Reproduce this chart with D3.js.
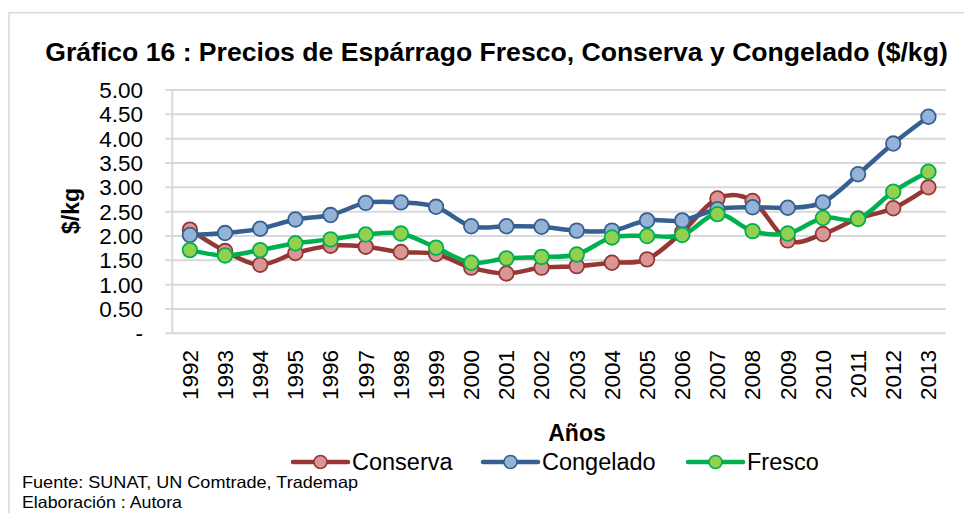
<!DOCTYPE html>
<html>
<head>
<meta charset="utf-8">
<script src="https://cdn.jsdelivr.net/npm/d3@7"></script>
<style>
  html, body { margin: 0; padding: 0; background: #fff; }
  svg { display: block; font-family: "Liberation Sans", Arial, sans-serif; }
</style>
</head>
<body>
<svg id="chart" width="964" height="513"></svg>
<script>
const years = ["1992","1993","1994","1995","1996","1997","1998","1999","2000","2001","2002","2003","2004","2005","2006","2007","2008","2009","2010","2011","2012","2013"];
const conserva  = [2.13,1.69,1.41,1.65,1.80,1.78,1.67,1.63,1.35,1.23,1.35,1.38,1.45,1.52,2.08,2.77,2.72,1.91,2.04,2.36,2.57,3.00];
const congelado = [2.02,2.06,2.15,2.34,2.43,2.68,2.69,2.60,2.20,2.20,2.19,2.11,2.11,2.32,2.32,2.55,2.59,2.58,2.69,3.27,3.90,4.45];
const fresco    = [1.71,1.60,1.71,1.85,1.93,2.03,2.05,1.76,1.45,1.54,1.57,1.62,1.97,2.00,2.02,2.45,2.10,2.05,2.37,2.35,2.91,3.32];
const yTicks = [0,0.5,1,1.5,2,2.5,3,3.5,4,4.5,5];
const seriesNames = ["Conserva","Congelado","Fresco"];
const titleText = "Gráfico 16 : Precios de Espárrago Fresco, Conserva y Congelado ($/kg)";
const yAxisTitle = "$/kg";
const xAxisTitle = "Años";
const footnotes = ["Fuente: SUNAT, UN Comtrade, Trademap", "Elaboración : Autora"];

const series = [
  {name: seriesNames[0], values: conserva,  line: "#953735", fill: "#D99694", edge: "#953735"},
  {name: seriesNames[1], values: congelado, line: "#376092", fill: "#95B3D7", edge: "#376092"},
  {name: seriesNames[2], values: fresco,    line: "#00B050", fill: "#92D050", edge: "#00B050"}
];

const svg = d3.select("#chart");
const plotL = 172.3, plotR = 946, plotT = 90, plotB = 333.3;

// chart frame (left & top border only visible)
svg.append("rect").attr("x", 9).attr("y", 12.7).attr("width", 980).attr("height", 560)
  .attr("fill", "none").attr("stroke", "#D9D9D9").attr("stroke-width", 1.5);

const x = d3.scalePoint().domain(years).range([plotL, plotR]).padding(0.5);
const y = d3.scaleLinear().domain([0, 5]).range([plotB, plotT]);

// gridlines
svg.append("g").selectAll("line").data(yTicks).join("line")
  .attr("x1", plotL - 7).attr("x2", plotR)
  .attr("y1", d => y(d)).attr("y2", d => y(d))
  .attr("stroke", "#D9D9D9").attr("stroke-width", 2);
// y axis line
svg.append("line").attr("x1", plotL).attr("x2", plotL).attr("y1", plotT).attr("y2", plotB)
  .attr("stroke", "#D9D9D9").attr("stroke-width", 2);

// y tick labels
const fmt = d => d === 0 ? "-" : d3.format(".2f")(d);
svg.append("g").selectAll("text").data(yTicks).join("text")
  .attr("x", 143).attr("y", d => y(d)).attr("dy", "0.35em")
  .attr("text-anchor", "end").attr("font-size", 22.5).attr("fill", "#000")
  .text(fmt);

// x tick labels rotated
svg.append("g").selectAll("text").data(years).join("text")
  .attr("transform", d => `translate(${x(d)},350) rotate(-90)`)
  .attr("dy", "0.35em").attr("text-anchor", "end")
  .attr("font-size", 22.5).attr("fill", "#000").text(d => d);

// series
const lineGen = d3.line().x((d, i) => x(years[i])).y(d => y(d)).curve(d3.curveCardinal.tension(0));
series.forEach(s => {
  const g = svg.append("g");
  g.append("path").datum(s.values).attr("d", lineGen)
    .attr("fill", "none").attr("stroke", s.line).attr("stroke-width", 4.5)
    .attr("stroke-linejoin", "round").attr("stroke-linecap", "round");
  g.selectAll("circle").data(s.values).join("circle")
    .attr("cx", (d, i) => x(years[i])).attr("cy", d => y(d)).attr("r", 7.3)
    .attr("fill", s.fill).attr("stroke", s.edge).attr("stroke-width", 1.8);
});

// title
const title = svg.append("text").attr("x", 496.5).attr("y", 61).attr("text-anchor", "middle")
  .attr("font-weight", "bold").attr("font-size", 24).attr("fill", "#000").text(titleText);
const tw = title.node().getComputedTextLength();
title.attr("font-size", 24 * 903 / tw);

// y axis title
svg.append("text").attr("transform", "translate(79,211) rotate(-90)")
  .attr("text-anchor", "middle").attr("font-weight", "bold").attr("font-size", 23)
  .attr("fill", "#000").text(yAxisTitle);

// x axis title
svg.append("text").attr("x", 577).attr("y", 440.5).attr("text-anchor", "middle")
  .attr("font-weight", "bold").attr("font-size", 23).attr("fill", "#000").text(xAxisTitle);

// legend
const legendX = [293, 483, 688];
series.forEach((s, i) => {
  const g = svg.append("g").attr("transform", `translate(${legendX[i]},462)`);
  g.append("line").attr("x1", 0).attr("x2", 55).attr("y1", 0).attr("y2", 0)
    .attr("stroke", s.line).attr("stroke-width", 4.5).attr("stroke-linecap", "round");
  g.append("circle").attr("cx", 27.5).attr("cy", 0).attr("r", 6.5)
    .attr("fill", s.fill).attr("stroke", s.edge).attr("stroke-width", 1.5);
  g.append("text").attr("x", 59).attr("y", 8.3).attr("font-size", 23.5).attr("fill", "#000").text(s.name);
});

// footnotes
const fnWidths = [336, 160];
const fnY = [488, 508];
footnotes.forEach((t, i) => {
  svg.append("text").attr("x", 22).attr("y", fnY[i])
    .attr("font-family", "'Liberation Sans Narrow', 'Liberation Sans', Arial, sans-serif")
    .attr("font-size", 16.5).attr("fill", "#000")
    .attr("textLength", fnWidths[i]).attr("lengthAdjust", "spacingAndGlyphs")
    .text(t);
});
</script>
</body>
</html>
